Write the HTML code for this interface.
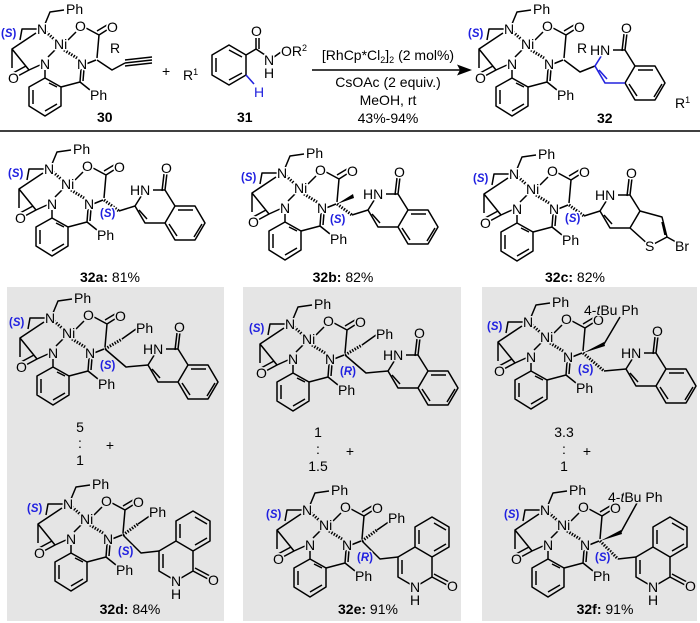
<!DOCTYPE html>
<html><head><meta charset="utf-8"><style>
html,body{margin:0;padding:0;background:#fff;}
svg{display:block;}
.b{fill:none;stroke:#000;stroke-width:1.5;stroke-linejoin:round}
.d{stroke-dasharray:1.4 1.4;stroke-width:3}
.bl{fill:none;stroke:#2222dd;stroke-width:1.6}
text{font-family:"Liberation Sans",sans-serif;font-size:14px;fill:#000;paint-order:stroke;stroke:#fff;stroke-width:3px;stroke-linejoin:round}
.gr text{stroke:#e5e5e5}
text.s{fill:#2020e0;font-size:11.5px;font-weight:bold}
text.n{stroke:none}
.m{text-anchor:middle}
</style></head><body>
<svg width="700" height="623" viewBox="0 0 700 623" xmlns="http://www.w3.org/2000/svg">
<rect x="7" y="287" width="217" height="334" fill="#e5e5e5"/>
<rect x="243" y="287" width="218" height="334" fill="#e5e5e5"/>
<rect x="482" y="287" width="215" height="334" fill="#e5e5e5"/>
<line x1="0" y1="131" x2="700" y2="131" stroke="#000" stroke-width="1.6"/>

<!-- 30 -->
<g transform="translate(0,0)">
<path class="b" d="M45,24L50,12L64,10 M37,29L22,29L20,40 M36,33L12,49L12,68 M12,49L29,70 M29,70L40,65 M29,70L16,77 M26,66L13,73 M55,50L48,57 M68,40L76,32 M86,28L99,35 M99,35L110,28 M97,31L107,25 M99,35L97,58 M86,64L96,60 M45,70L45,78 M45,78L61,87L61,106L45,116L29,106L29,87Z M33,90L33,104 M45,111L57,104 M49,83L57,87 M61,87L80,82 M81,69L80,82 M84,69L83,81 M80,82L90,90"/>
<path class="b d" d="M46,32L55,40M64,50L77,58"/>
<path class="b" d="M97,60L112,70L125,63 M125,63L152,60 M125,60L152,57 M125,66L152,63"/>
<text class="s" x="1" y="37">(<tspan font-style="italic">S</tspan>)</text>
<text x="37" y="34">N</text><text x="66" y="14">Ph</text><text x="54" y="49">Ni</text><text x="75" y="31">O</text><text x="107" y="32">O</text><text x="40" y="69">N</text><text x="77" y="69">N</text><text x="8" y="83">O</text><text x="90" y="100">Ph</text>
<text x="110" y="53">R</text>
<text x="97" y="122" font-weight="bold">30</text>
</g>
<text x="162" y="76" font-size="16" class="n">+</text>

<!-- 31 -->
<path class="b" d="M229,45L246,55L246,75L229,85L212,75L212,55Z M216,58L216,72 M229,80L242,73 M229,50L242,57 M246,55L256,49 M256,49L256,38 M259,49L259,38 M256,49L265,55 M274,57L281,52"/>
<path class="bl" d="M246,75L254,84"/>
<text x="251" y="36">O</text><text x="264" y="65">N</text><text x="264" y="78">H</text>
<text x="281" y="56">OR<tspan font-size="9" dy="-5">2</tspan></text>
<text x="183" y="80">R<tspan font-size="9" dy="-5">1</tspan></text>
<text x="254" y="97" style="fill:#2222dd">H</text>
<text x="237" y="122" font-weight="bold">31</text>

<!-- arrow -->
<line x1="312" y1="70" x2="462" y2="70" stroke="#000" stroke-width="1.4"/>
<polygon points="472,70 457,64.5 460,70 457,75.5" fill="#000"/>
<text x="388" y="60" class="m n">[RhCp*Cl<tspan font-size="9" dy="3">2</tspan><tspan dy="-3">]</tspan><tspan font-size="9" dy="3">2</tspan><tspan dy="-3"> (2 mol%)</tspan></text>
<text x="388" y="87" class="m n">CsOAc (2 equiv.)</text>
<text x="388" y="105" class="m n">MeOH, rt</text>
<text x="388" y="123" class="m n">43%-94%</text>

<!-- 32 -->
<g transform="translate(467,0)">
<path class="b" d="M45,24L50,12L64,10 M37,29L22,29L20,40 M36,33L12,49L12,68 M12,49L29,70 M29,70L40,65 M29,70L16,77 M26,66L13,73 M55,50L48,57 M68,40L76,32 M86,28L99,35 M99,35L110,28 M97,31L107,25 M99,35L97,58 M86,64L96,60 M45,70L45,78 M45,78L61,87L61,106L45,116L29,106L29,87Z M33,90L33,104 M45,111L57,104 M49,83L57,87 M61,87L80,82 M81,69L80,82 M84,69L83,81 M80,82L90,90"/>
<path class="b d" d="M46,32L55,40M64,50L77,58"/>
<path class="b" d="M97,60L113,72L128,66 M146,50L158,50L168,66L158,83 M158,50L160,33 M155,51L157,34 M168,66L188,66L198,83L188,100L168,100L158,83 M171,70L186,70 M195,84L187,97 M170,96L162,84"/>
<path class="bl" d="M138,50L128,66L138,83L158,83 M132,70L140,79"/>
<text class="s" x="1" y="37">(<tspan font-style="italic">S</tspan>)</text>
<text x="37" y="34">N</text><text x="66" y="14">Ph</text><text x="54" y="49">Ni</text><text x="75" y="31">O</text><text x="107" y="32">O</text><text x="40" y="69">N</text><text x="77" y="69">N</text><text x="8" y="83">O</text><text x="90" y="100">Ph</text>
<text x="110" y="53">R</text><text x="123" y="55">HN</text><text x="154" y="33">O</text>
<text x="208" y="108">R<tspan font-size="9" dy="-5">1</tspan></text>
<text x="130" y="123" font-weight="bold">32</text>
</g>

<!-- 32a -->
<g transform="translate(7,140)">
<path class="b" d="M45,24L50,12L64,10 M37,29L22,29L20,40 M36,33L12,49L12,68 M12,49L29,70 M29,70L40,65 M29,70L16,77 M26,66L13,73 M55,50L48,57 M68,40L76,32 M86,28L99,35 M99,35L110,28 M97,31L107,25 M99,35L97,58 M86,64L96,60 M45,70L45,78 M45,78L61,87L61,106L45,116L29,106L29,87Z M33,90L33,104 M45,111L57,104 M49,83L57,87 M61,87L80,82 M81,69L80,82 M84,69L83,81 M80,82L90,90"/>
<path class="b d" d="M46,32L55,40M64,50L77,58 M97,60L112,71"/>
<path class="b" d="M112,71L128,66 M128,66L138,50 M146,50L158,50L168,66L158,83L138,83L128,66 M132,70L140,79 M158,50L160,33 M155,51L157,34 M168,66L188,66L198,83L188,100L168,100L158,83 M171,70L186,70 M195,84L187,97 M170,96L162,84"/>
<text class="s" x="1" y="37">(<tspan font-style="italic">S</tspan>)</text>
<text x="37" y="34">N</text><text x="66" y="14">Ph</text><text x="54" y="49">Ni</text><text x="75" y="31">O</text><text x="107" y="32">O</text><text x="40" y="69">N</text><text x="77" y="69">N</text><text x="8" y="83">O</text><text x="90" y="100">Ph</text>
<text x="123" y="55">HN</text><text x="154" y="33">O</text>
<text class="s" x="93" y="77">(<tspan font-style="italic">S</tspan>)</text>
</g>
<text x="110" y="282" class="m n"><tspan font-weight="bold">32a:</tspan> 81%</text>

<!-- 32b -->
<g transform="translate(240,144)">
<path class="b" d="M45,24L50,12L64,10 M37,29L22,29L20,40 M36,33L12,49L12,68 M12,49L29,70 M29,70L40,65 M29,70L16,77 M26,66L13,73 M55,50L48,57 M68,40L76,32 M86,28L99,35 M99,35L110,28 M97,31L107,25 M99,35L97,58 M86,64L96,60 M45,70L45,78 M45,78L61,87L61,106L45,116L29,106L29,87Z M33,90L33,104 M45,111L57,104 M49,83L57,87 M61,87L80,82 M81,69L80,82 M84,69L83,81 M80,82L90,90"/>
<path class="b d" d="M46,32L55,40M64,50L77,58 M97,60L112,71"/>
<polygon points="97,60 113,50 114,54" fill="#000"/>
<path class="b" d="M112,71L128,66 M128,66L138,50 M146,50L158,50L168,66L158,83L138,83L128,66 M132,70L140,79 M158,50L160,33 M155,51L157,34 M168,66L188,66L198,83L188,100L168,100L158,83 M171,70L186,70 M195,84L187,97 M170,96L162,84"/>
<text class="s" x="1" y="37">(<tspan font-style="italic">S</tspan>)</text>
<text x="37" y="34">N</text><text x="66" y="14">Ph</text><text x="54" y="49">Ni</text><text x="75" y="31">O</text><text x="107" y="32">O</text><text x="40" y="69">N</text><text x="77" y="69">N</text><text x="8" y="83">O</text><text x="90" y="100">Ph</text>
<text x="123" y="55">HN</text><text x="154" y="33">O</text>
<text class="s" x="90" y="79">(<tspan font-style="italic">S</tspan>)</text>
</g>
<text x="343" y="282" class="m n"><tspan font-weight="bold">32b:</tspan> 82%</text>

<!-- 32c -->
<g transform="translate(472,145)">
<path class="b" d="M45,24L50,12L64,10 M37,29L22,29L20,40 M36,33L12,49L12,68 M12,49L29,70 M29,70L40,65 M29,70L16,77 M26,66L13,73 M55,50L48,57 M68,40L76,32 M86,28L99,35 M99,35L110,28 M97,31L107,25 M99,35L97,58 M86,64L96,60 M45,70L45,78 M45,78L61,87L61,106L45,116L29,106L29,87Z M33,90L33,104 M45,111L57,104 M49,83L57,87 M61,87L80,82 M81,69L80,82 M84,69L83,81 M80,82L90,90"/>
<path class="b d" d="M46,32L55,40M64,50L77,58 M97,60L112,71"/>
<path class="b" d="M112,71L128,66 M128,66L138,50 M146,50L158,50L168,66L158,83L138,83L128,66 M132,70L140,79 M158,50L160,33 M155,51L157,34 M168,66L190,72L195,92L178,101L158,83 M190,77L193,90 M195,92L204,97"/>
<text class="s" x="1" y="37">(<tspan font-style="italic">S</tspan>)</text>
<text x="37" y="34">N</text><text x="66" y="14">Ph</text><text x="54" y="49">Ni</text><text x="75" y="31">O</text><text x="107" y="32">O</text><text x="40" y="69">N</text><text x="77" y="69">N</text><text x="8" y="83">O</text><text x="90" y="100">Ph</text>
<text x="123" y="55">HN</text><text x="154" y="33">O</text>
<text x="173" y="106">S</text><text x="203" y="106">Br</text>
<text class="s" x="93" y="77">(<tspan font-style="italic">S</tspan>)</text>
</g>
<text x="575" y="282" class="m n"><tspan font-weight="bold">32c:</tspan> 82%</text>

<g class="gr">
<!-- 32d top -->
<g transform="translate(8,289)">
<path class="b" d="M45,24L50,12L64,10 M37,29L22,29L20,40 M36,33L12,49L12,68 M12,49L29,70 M29,70L40,65 M29,70L16,77 M26,66L13,73 M55,50L48,57 M68,40L76,32 M86,28L99,35 M99,35L110,28 M97,31L107,25 M99,35L97,58 M86,64L96,60 M45,70L45,78 M45,78L61,87L61,106L45,116L29,106L29,87Z M33,90L33,104 M45,111L57,104 M49,83L57,87 M61,87L80,82 M81,69L80,82 M84,69L83,81 M80,82L90,90"/>
<path class="b d" d="M46,32L55,40M64,50L77,58 M97,60L114,50"/>
<path class="b" d="M114,50L128,40 M97,60L118,78L140,76"/>
<g transform="translate(12,10)"><path class="b" d="M128,66L138,50 M146,50L158,50L168,66L158,83L138,83L128,66 M132,70L140,79 M158,50L160,33 M155,51L157,34 M168,66L188,66L198,83L188,100L168,100L158,83 M171,70L186,70 M195,84L187,97 M170,96L162,84"/><text x="123" y="55">HN</text><text x="154" y="33">O</text></g>
<text class="s" x="1" y="37">(<tspan font-style="italic">S</tspan>)</text>
<text x="37" y="34">N</text><text x="66" y="14">Ph</text><text x="54" y="49">Ni</text><text x="75" y="31">O</text><text x="107" y="32">O</text><text x="40" y="69">N</text><text x="77" y="69">N</text><text x="8" y="83">O</text><text x="90" y="100">Ph</text>
<text x="128" y="44">Ph</text>
<text class="s" x="92" y="80">(<tspan font-style="italic">S</tspan>)</text>
</g>
<text x="80" y="432" class="m n">5</text><text x="80" y="448" class="m n">:</text><text x="80" y="465" class="m n">1</text><text x="110" y="450" class="m n">+</text>
<!-- 32d bottom -->
<g transform="translate(26,475)">
<path class="b" d="M45,24L50,12L64,10 M37,29L22,29L20,40 M36,33L12,49L12,68 M12,49L29,70 M29,70L40,65 M29,70L16,77 M26,66L13,73 M55,50L48,57 M68,40L76,32 M86,28L99,35 M99,35L110,28 M97,31L107,25 M99,35L97,58 M86,64L96,60 M45,70L45,78 M45,78L61,87L61,106L45,116L29,106L29,87Z M33,90L33,104 M45,111L57,104 M49,83L57,87 M61,87L80,82 M81,69L80,82 M84,69L83,81 M80,82L90,90"/>
<path class="b d" d="M46,32L55,40M64,50L77,58 M97,60L112,49"/>
<path class="b" d="M112,49L125,40 M97,60L115,78L133,76"/>
<g transform="translate(6,6)"><path class="b" d="M127,70L144,60L161,70L161,90L144,100L127,90Z M131,73L131,87 M144,60L144,40L161,30L178,40L178,60L161,70 M148,43L148,57 M163,36L175,43 M175,57L163,64 M161,90L176,98 M163,87L178,95"/><text x="139" y="105">N</text><text x="139" y="118">H</text><text x="176" y="104">O</text></g>
<text class="s" x="1" y="37">(<tspan font-style="italic">S</tspan>)</text>
<text x="37" y="34">N</text><text x="66" y="14">Ph</text><text x="54" y="49">Ni</text><text x="75" y="31">O</text><text x="107" y="32">O</text><text x="40" y="69">N</text><text x="77" y="69">N</text><text x="8" y="83">O</text><text x="90" y="100">Ph</text>
<text x="123" y="42">Ph</text>
<text class="s" x="92" y="80">(<tspan font-style="italic">S</tspan>)</text>
</g>
<text x="130" y="614" class="m n"><tspan font-weight="bold">32d:</tspan> 84%</text>

<!-- 32e top -->
<g transform="translate(248,295)">
<path class="b" d="M45,24L50,12L64,10 M37,29L22,29L20,40 M36,33L12,49L12,68 M12,49L29,70 M29,70L40,65 M29,70L16,77 M26,66L13,73 M55,50L48,57 M68,40L76,32 M86,28L99,35 M99,35L110,28 M97,31L107,25 M99,35L97,58 M86,64L96,60 M45,70L45,78 M45,78L61,87L61,106L45,116L29,106L29,87Z M33,90L33,104 M45,111L57,104 M49,83L57,87 M61,87L80,82 M81,69L80,82 M84,69L83,81 M80,82L90,90"/>
<path class="b d" d="M46,32L55,40M64,50L77,58 M97,60L114,50"/>
<path class="b" d="M114,50L128,40 M97,60L118,78L140,76"/>
<g transform="translate(12,10)"><path class="b" d="M128,66L138,50 M146,50L158,50L168,66L158,83L138,83L128,66 M132,70L140,79 M158,50L160,33 M155,51L157,34 M168,66L188,66L198,83L188,100L168,100L158,83 M171,70L186,70 M195,84L187,97 M170,96L162,84"/><text x="123" y="55">HN</text><text x="154" y="33">O</text></g>
<text class="s" x="1" y="37">(<tspan font-style="italic">S</tspan>)</text>
<text x="37" y="34">N</text><text x="66" y="14">Ph</text><text x="54" y="49">Ni</text><text x="75" y="31">O</text><text x="107" y="32">O</text><text x="40" y="69">N</text><text x="77" y="69">N</text><text x="8" y="83">O</text><text x="90" y="100">Ph</text>
<text x="128" y="44">Ph</text>
<text class="s" x="92" y="80">(<tspan font-style="italic">R</tspan>)</text>
</g>
<text x="318" y="437" class="m n">1</text><text x="318" y="454" class="m n">:</text><text x="318" y="471" class="m n">1.5</text><text x="350" y="456" class="m n">+</text>
<!-- 32e bottom -->
<g transform="translate(265,481)">
<path class="b" d="M45,24L50,12L64,10 M37,29L22,29L20,40 M36,33L12,49L12,68 M12,49L29,70 M29,70L40,65 M29,70L16,77 M26,66L13,73 M55,50L48,57 M68,40L76,32 M86,28L99,35 M99,35L110,28 M97,31L107,25 M99,35L97,58 M86,64L96,60 M45,70L45,78 M45,78L61,87L61,106L45,116L29,106L29,87Z M33,90L33,104 M45,111L57,104 M49,83L57,87 M61,87L80,82 M81,69L80,82 M84,69L83,81 M80,82L90,90"/>
<path class="b d" d="M46,32L55,40M64,50L77,58 M97,60L112,49"/>
<path class="b" d="M112,49L125,40 M97,60L115,78L133,76"/>
<g transform="translate(6,6)"><path class="b" d="M127,70L144,60L161,70L161,90L144,100L127,90Z M131,73L131,87 M144,60L144,40L161,30L178,40L178,60L161,70 M148,43L148,57 M163,36L175,43 M175,57L163,64 M161,90L176,98 M163,87L178,95"/><text x="139" y="105">N</text><text x="139" y="118">H</text><text x="176" y="104">O</text></g>
<text class="s" x="1" y="37">(<tspan font-style="italic">S</tspan>)</text>
<text x="37" y="34">N</text><text x="66" y="14">Ph</text><text x="54" y="49">Ni</text><text x="75" y="31">O</text><text x="107" y="32">O</text><text x="40" y="69">N</text><text x="77" y="69">N</text><text x="8" y="83">O</text><text x="90" y="100">Ph</text>
<text x="123" y="42">Ph</text>
<text class="s" x="92" y="80">(<tspan font-style="italic">R</tspan>)</text>
</g>
<text x="368" y="614" class="m n"><tspan font-weight="bold">32e:</tspan> 91%</text>

<!-- 32f top -->
<g transform="translate(486,293)">
<path class="b" d="M45,24L50,12L64,10 M37,29L22,29L20,40 M36,33L12,49L12,68 M12,49L29,70 M29,70L40,65 M29,70L16,77 M26,66L13,73 M55,50L48,57 M68,40L76,32 M86,28L99,35 M99,35L110,28 M97,31L107,25 M99,35L97,58 M86,64L96,60 M45,70L45,78 M45,78L61,87L61,106L45,116L29,106L29,87Z M33,90L33,104 M45,111L57,104 M49,83L57,87 M61,87L80,82 M81,69L80,82 M84,69L83,81 M80,82L90,90"/>
<path class="b d" d="M46,32L55,40M64,50L77,58 M97,60L118,78"/>
<polygon points="97,60 118,49 119,53" fill="#000"/>
<path class="b" d="M118,51L134,24 M118,78L140,76"/>
<g transform="translate(12,10)"><path class="b" d="M128,66L138,50 M146,50L158,50L168,66L158,83L138,83L128,66 M132,70L140,79 M158,50L160,33 M155,51L157,34 M168,66L188,66L198,83L188,100L168,100L158,83 M171,70L186,70 M195,84L187,97 M170,96L162,84"/><text x="123" y="55">HN</text><text x="154" y="33">O</text></g>
<text class="s" x="1" y="37">(<tspan font-style="italic">S</tspan>)</text>
<text x="37" y="34">N</text><text x="66" y="14">Ph</text><text x="54" y="49">Ni</text><text x="75" y="31">O</text><text x="107" y="32">O</text><text x="40" y="69">N</text><text x="77" y="69">N</text><text x="8" y="83">O</text><text x="90" y="100">Ph</text>
<text x="98" y="22">4-<tspan font-style="italic">t</tspan>Bu Ph</text>
<text class="s" x="92" y="80">(<tspan font-style="italic">S</tspan>)</text>
</g>
<text x="564" y="437" class="m n">3.3</text><text x="564" y="454" class="m n">:</text><text x="564" y="471" class="m n">1</text><text x="587" y="456" class="m n">+</text>
<!-- 32f bottom -->
<g transform="translate(503,481)">
<path class="b" d="M45,24L50,12L64,10 M37,29L22,29L20,40 M36,33L12,49L12,68 M12,49L29,70 M29,70L40,65 M29,70L16,77 M26,66L13,73 M55,50L48,57 M68,40L76,32 M86,28L99,35 M99,35L110,28 M97,31L107,25 M99,35L97,58 M86,64L96,60 M45,70L45,78 M45,78L61,87L61,106L45,116L29,106L29,87Z M33,90L33,104 M45,111L57,104 M49,83L57,87 M61,87L80,82 M81,69L80,82 M84,69L83,81 M80,82L90,90"/>
<path class="b d" d="M46,32L55,40M64,50L77,58 M97,60L115,78"/>
<polygon points="97,60 118,49 119,53" fill="#000"/>
<path class="b" d="M118,51L134,22 M115,78L133,76"/>
<g transform="translate(6,6)"><path class="b" d="M127,70L144,60L161,70L161,90L144,100L127,90Z M131,73L131,87 M144,60L144,40L161,30L178,40L178,60L161,70 M148,43L148,57 M163,36L175,43 M175,57L163,64 M161,90L176,98 M163,87L178,95"/><text x="139" y="105">N</text><text x="139" y="118">H</text><text x="176" y="104">O</text></g>
<text class="s" x="1" y="37">(<tspan font-style="italic">S</tspan>)</text>
<text x="37" y="34">N</text><text x="66" y="14">Ph</text><text x="54" y="49">Ni</text><text x="75" y="31">O</text><text x="107" y="32">O</text><text x="40" y="69">N</text><text x="77" y="69">N</text><text x="8" y="83">O</text><text x="90" y="100">Ph</text>
<text x="105" y="21">4-<tspan font-style="italic">t</tspan>Bu Ph</text>
<text class="s" x="92" y="80">(<tspan font-style="italic">S</tspan>)</text>
</g>
<text x="605" y="614" class="m n"><tspan font-weight="bold">32f:</tspan> 91%</text>
</g>
</svg>
</body></html>
